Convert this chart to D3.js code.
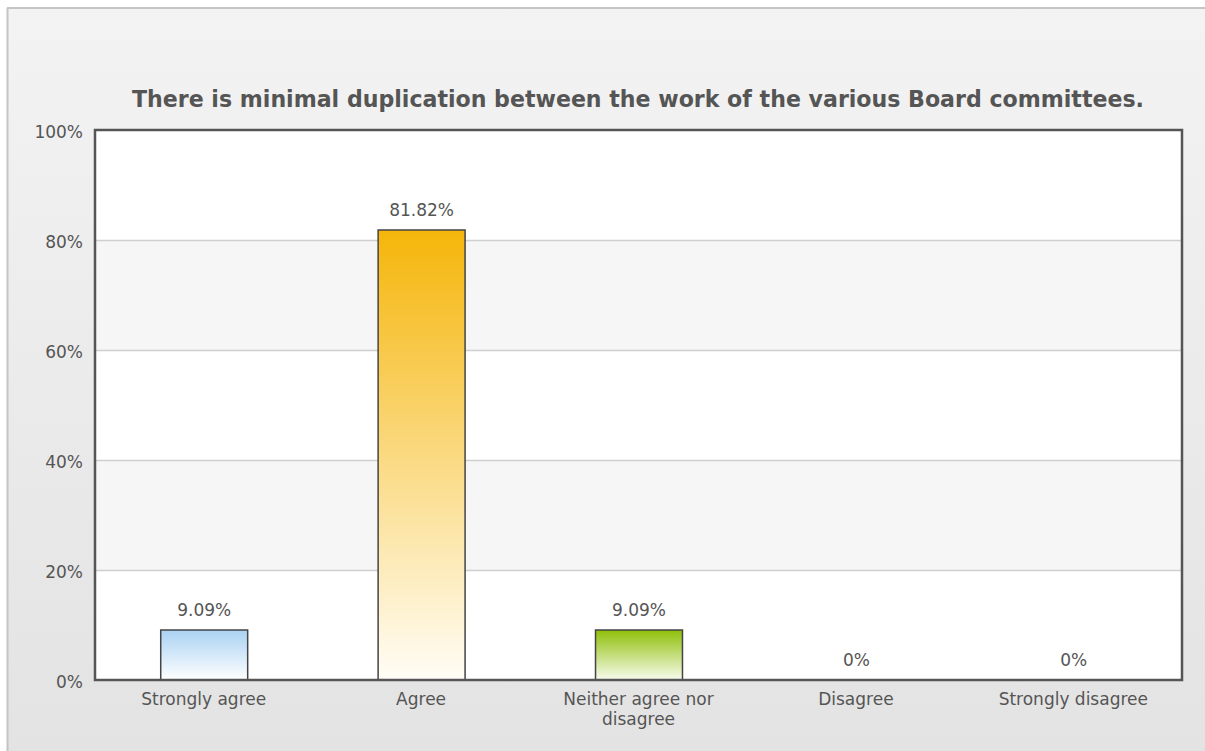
<!DOCTYPE html>
<html>
<head>
<meta charset="utf-8">
<script src="https://cdn.jsdelivr.net/npm/d3@7"></script>
<style>
  html, body { margin: 0; padding: 0; background: #fff; }
  svg { display: block; }
</style>
</head>
<body>
<svg id="chart" width="1205" height="751"></svg>
<script>
const categories = ["Strongly agree", "Agree", "Neither agree nor disagree", "Disagree", "Strongly disagree"];
const values = [9.09, 81.82, 9.09, 0, 0];
const valueLabels = ["9.09%", "81.82%", "9.09%", "0%", "0%"];
const yTicks = [0, 20, 40, 60, 80, 100];
const barColors = [["#a9d2f3", "#ffffff"], ["#f5b50a", "#fffdf6"], ["#8fc009", "#f8fbee"], ["#a9d2f3", "#ffffff"], ["#a9d2f3", "#ffffff"]];
const title = "There is minimal duplication between the work of the various Board committees.";

const FONT = "Tahoma, 'DejaVu Sans', sans-serif";
const svg = d3.select("#chart");
const W = 1205, H = 751;
const defs = svg.append("defs");

const bg = defs.append("linearGradient").attr("id", "bg").attr("x1", 0).attr("y1", 0).attr("x2", 0).attr("y2", 1);
bg.append("stop").attr("offset", "0%").attr("stop-color", "#f3f3f3");
bg.append("stop").attr("offset", "100%").attr("stop-color", "#e3e3e3");

barColors.forEach((c, i) => {
  const g = defs.append("linearGradient").attr("id", "bar" + i).attr("x1", 0).attr("y1", 0).attr("x2", 0).attr("y2", 1);
  g.append("stop").attr("offset", "0%").attr("stop-color", c[0]);
  g.append("stop").attr("offset", "100%").attr("stop-color", c[1]);
});

// outer frame
svg.append("rect").attr("x", 0).attr("y", 0).attr("width", W).attr("height", H).attr("fill", "#ffffff");
svg.append("rect").attr("x", 8).attr("y", 8).attr("width", W - 8).attr("height", H - 8).attr("fill", "url(#bg)");
svg.append("line").attr("x1", 7.5).attr("x2", 7.5).attr("y1", 8).attr("y2", H).attr("stroke", "#c4c4c4").attr("stroke-width", 2);
svg.append("line").attr("x1", 7).attr("x2", W).attr("y1", 8).attr("y2", 8).attr("stroke", "#c4c4c4").attr("stroke-width", 2);

const m = { left: 95, right: 1182, top: 130, bottom: 680 };
const x = d3.scaleBand().domain(categories).range([m.left, m.right]).paddingInner(0.6).paddingOuter(0.3).align(0.5);
const y = d3.scaleLinear().domain([0, 100]).range([m.bottom, m.top]);

// title
svg.append("text").attr("x", 638).attr("y", 107)
  .attr("text-anchor", "middle").attr("font-family", FONT)
  .attr("font-weight", "bold").attr("font-size", 22.1).attr("fill", "#555")
  .text(title);

// plot background
svg.append("rect").attr("x", m.left).attr("y", m.top).attr("width", m.right - m.left).attr("height", m.bottom - m.top).attr("fill", "#ffffff");
const bands = [20, 60];
svg.append("g").selectAll("rect").data(bands).join("rect")
  .attr("x", m.left).attr("width", m.right - m.left)
  .attr("y", d => y(d + 20)).attr("height", d => y(d) - y(d + 20))
  .attr("fill", "#f6f6f6");

// gridlines
svg.append("g").selectAll("line").data(yTicks.filter(d => d > 0 && d < 100)).join("line")
  .attr("x1", m.left).attr("x2", m.right)
  .attr("y1", d => y(d) + 0.5).attr("y2", d => y(d) + 0.5)
  .attr("stroke", "#cfcfcf").attr("stroke-width", 1.5);

// y axis labels
const yAxis = d3.axisLeft(y).tickValues(yTicks).tickFormat(d => d + "%").tickSize(0).tickPadding(12);
const ya = svg.append("g").attr("transform", `translate(${m.left},2)`).call(yAxis);
ya.select(".domain").remove();
ya.selectAll("text").attr("font-family", FONT).attr("font-size", 17).attr("fill", "#555");

// bars
const barData = categories.map((c, i) => ({ c, v: values[i], i, l: valueLabels[i] }));
svg.append("g").selectAll("rect").data(barData.filter(d => d.v > 0))
  .join("rect")
  .attr("x", d => x(d.c) + 0.5).attr("width", x.bandwidth())
  .attr("y", d => y(d.v)).attr("height", d => y(0) - y(d.v))
  .attr("fill", d => `url(#bar${d.i})`)
  .attr("stroke", "#444").attr("stroke-width", 1.5);

// value labels
svg.append("g").selectAll("text").data(barData)
  .join("text")
  .attr("x", d => x(d.c) + x.bandwidth() / 2 + 0.5).attr("y", d => y(d.v) - 14)
  .attr("text-anchor", "middle").attr("font-family", FONT)
  .attr("font-size", 17).attr("fill", "#555").text(d => d.l);

// frame
svg.append("rect").attr("x", m.left).attr("y", m.top).attr("width", m.right - m.left).attr("height", m.bottom - m.top)
  .attr("fill", "none").attr("stroke", "#555").attr("stroke-width", 2.5);

// x axis labels
const xAxis = d3.axisBottom(x).tickSize(0).tickPadding(13);
const xa = svg.append("g").attr("transform", `translate(0,${m.bottom})`).call(xAxis);
xa.select(".domain").remove();
xa.selectAll("text").attr("font-family", FONT).attr("font-size", 17).attr("fill", "#555")
  .each(function (d) {
    const t = d3.select(this);
    if (d === "Neither agree nor disagree") {
      t.text(null);
      t.append("tspan").attr("x", 0).attr("dy", "0.71em").text("Neither agree nor");
      t.append("tspan").attr("x", 0).attr("dy", "1.15em").text("disagree");
      t.attr("dy", null);
    }
  });
</script>
</body>
</html>
